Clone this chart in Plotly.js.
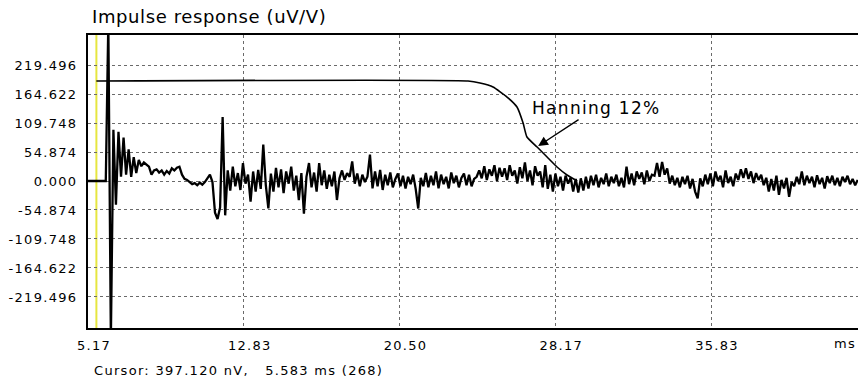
<!DOCTYPE html>
<html><head><meta charset="utf-8">
<script src="https://cdn.plot.ly/plotly-3.0.1.min.js"></script>
<style>
html,body{margin:0;padding:0;background:#fff;}
#chart{width:858px;height:381px;}
.xtick text,.ytick text,.annotation-text{letter-spacing:1.3px;}
.gtitle{letter-spacing:0.6px;}
</style></head><body><div id="chart"></div>
<script>
// sampling of the displayed (decimated) impulse response
const startMs = 5.17;
const stepMs = 0.125;

// impulse response values, uV/V
const responseUV = [
  0, 0, 0, 0, 0, 0, 0, 0,
  300, -300, 97, -45, 93, 8, 82, 12, 60, 8,
  45, 15, 40, 28, 35, 30, 27, 12, 20, 22,
  16, 20, 12, 19, 14, 24, 20, 25, 27, 12,
  4, 2, -2, -6, -4, -8, -3, -7, -2, 4,
  12, -2, -60, -72, -50, 121, -65,
  20, -18, 27, -10, 15, -17, 34, -5, 12, -39,
  18, -20, 21, -15, 69, -8, -52, 14, -20, 25,
  -12, 22, -23, 18, -5, 27, -18, 10, -36, 15,
  -62, 8, 34, -12, 16, -20, 34, -8, 20, -15,
  12, -10, 18, -36, 5, 20, 2, 15, 8, 37,
  -5, 14, -10, 12, -2, 8, 50, -14, 18, -10,
  21, -17, 12, -8, 16, -12, 4, 14, -10, 10,
  -14, 8, -6, 12, -15, -52, 6, -10, 15, -12,
  10, -8, 18, -14, 12, -6, 8, -14, 16, -4,
  10, -12, 6, 14, -8, 12, -10, 4, 8, 20,
  5, 28, 2, 22, 10, 30, 0, 25, 8, 24,
  2, 30, 10, 20, -5, 26, 5, 35, 0, 20,
  -8, 28, 10, 18, -12, 30, -15, 12, -20, 14,
  -10, 8, -18, 10, -5, 6, -20, 4, -22, 5,
  -18, 8, -14, 10, -8, 12, -12, 6, -6, 14,
  -10, 8, -4, 12, -10, 6, -12, 27, -6, 14,
  -8, 18, 4, 16, -6, 20, 0, 12, 10, 34,
  8, 36, 12, 24, -5, 10, -8, 6, -12, 8,
  -6, 10, -14, 4, -20, -33, 5, -10, 12, -6,
  14, -10, 18, 0, 10, -12, 20, -4, 8, -10,
  14, 2, 22, 6, 24, 4, 18, -4, 15, 2,
  12, -8, 6, -20, 4, -18, 10, -26, 2, -14,
  6, -30, -2, -10, 8, -6, 18, -8, 10, -4,
  8, -12, 11, -6, 6, -14, 9, -4, 10, -8,
  6, -10, 8, -2, 10, -6, 4, -8, 2
];

// Hanning window curve (scaled)
const hanningMs = [5.583, 23.87, 24.46, 25.10, 25.79, 26.28, 26.58, 26.77, 27.27, 27.76, 28.25, 28.74, 29.24];
const hanningUV = [189.2, 189.2, 185.4, 177.9, 158.9, 140.0, 109.7, 83.3, 64.3, 45.4, 26.5, 11.4, 0];

// cursor readout
const cursorMs = 5.583;
const cursorNv = '397.120';
const cursorSample = 268;

// axes
const xTickMs = [5.17, 12.835, 20.50, 28.165, 35.83];
const xTickLabels = ['5.17', '12.83', '20.50', '28.17', '35.83'];
const yTickUV = [219.496, 164.622, 109.748, 54.874, 0, -54.874, -109.748, -164.622, -219.496];
const yTickLabels = ['219.496', '164.622', '109.748', '54.874', '0.000', '-54.874', '-109.748', '-164.622', '-219.496'];
const xRangeMs = [5.17, 43.06];
const yRangeUV = [-278.2, 276.3];

const titleText = 'Impulse response (uV/V)';
const windowLabel = 'Hanning 12%';
const windowArrowPoint = {ms: 27.32, uv: 66};
const xUnit = 'ms';

const responseMs = responseUV.map((_, i) => startMs + i * stepMs);
const nbsp = '\u00a0';

const traces = [
  {x: hanningMs, y: hanningUV, type: 'scatter', mode: 'lines',
   line: {color: '#000', width: 1.6, shape: 'spline', smoothing: 0.5}, hoverinfo: 'skip'},
  {x: responseMs, y: responseUV, type: 'scatter', mode: 'lines',
   line: {color: '#000', width: 2.3}, hoverinfo: 'skip'}
];

const axisCommon = {
  showgrid: true, gridcolor: '#6a6a6a', griddash: 'dot', gridwidth: 1,
  zeroline: false, showline: true, linecolor: '#000', linewidth: 2,
  ticks: '', fixedrange: true,
  tickfont: {family: 'DejaVu Sans', size: 13, color: '#000'}
};

const layout = {
  width: 858, height: 381,
  margin: {l: 88, r: 0, t: 35, b: 53, pad: 0},
  paper_bgcolor: '#fff', plot_bgcolor: '#fff',
  showlegend: false,
  font: {family: 'DejaVu Sans', size: 13, color: '#000'},
  title: {text: titleText, x: 92 / 858, xanchor: 'left', y: 1 - 17 / 381, yanchor: 'middle',
          font: {family: 'DejaVu Sans', size: 18, color: '#000'}},
  xaxis: Object.assign({}, axisCommon, {range: xRangeMs, tickvals: xTickMs, ticktext: xTickLabels,
          mirror: true, ticklabelstandoff: 4, ticklabelshift: 6}),
  yaxis: Object.assign({}, axisCommon, {range: yRangeUV, tickvals: yTickUV, ticktext: yTickLabels,
          mirror: false, ticklabelstandoff: 6}),
  shapes: [
    {type: 'line', xref: 'x', yref: 'paper', x0: cursorMs, x1: cursorMs, y0: 0, y1: 1,
     line: {color: '#e6e640', width: 2}, layer: 'below'}
  ],
  annotations: [
    {x: windowArrowPoint.ms, y: windowArrowPoint.uv, xref: 'x', yref: 'y',
     text: windowLabel, showarrow: true, arrowhead: 2, arrowsize: 1.4, arrowwidth: 1.4,
     arrowcolor: '#000', ax: 58, ay: -38, font: {family: 'DejaVu Sans', size: 17, color: '#000'}},
    {x: 1, y: -15 / 293, xref: 'paper', yref: 'paper', xanchor: 'right', yanchor: 'middle',
     text: xUnit, showarrow: false, font: {family: 'DejaVu Sans', size: 13, color: '#000'}},
    {x: 4 / 770, y: -42 / 293, xref: 'paper', yref: 'paper', xanchor: 'left', yanchor: 'middle',
     text: 'Cursor: ' + cursorNv + ' nV,' + nbsp + nbsp + nbsp + cursorMs.toFixed(3) + ' ms (' + cursorSample + ')',
     showarrow: false, font: {family: 'DejaVu Sans', size: 13, color: '#000'}}
  ]
};

Plotly.newPlot('chart', traces, layout, {displayModeBar: false, staticPlot: true});
</script></body></html>
